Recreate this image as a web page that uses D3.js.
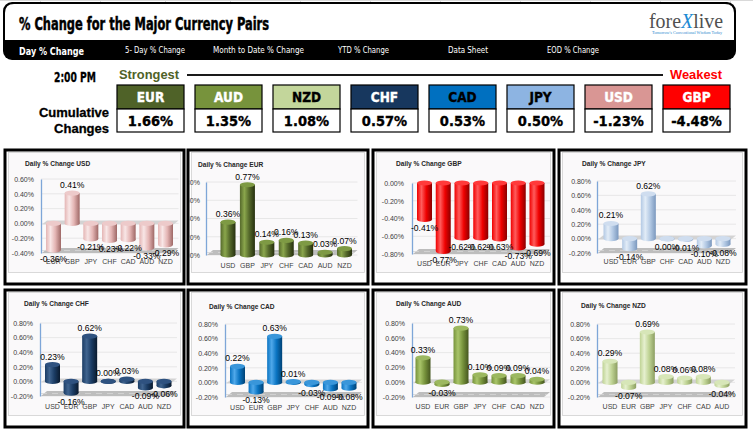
<!DOCTYPE html>
<html><head><meta charset="utf-8">
<script src="https://cdn.jsdelivr.net/npm/d3@7"></script>
<style>body{margin:0;background:#fff;} svg{display:block;}</style>
</head><body>
<svg id="c" width="753" height="431"></svg>
<script>
// ---------------- DATA ----------------
const tabLabels = ["Day % Change","5- Day % Change","Month to Date % Change","YTD % Change","Data Sheet","EOD % Change"];
const cumPairs  = ["EUR","AUD","NZD","CHF","CAD","JPY","USD","GBP"];
const cumValues = [1.66, 1.35, 1.08, 0.57, 0.53, 0.50, -1.23, -4.48];

const usdCats = ["EUR","GBP","JPY","CHF","CAD","AUD","NZD"];
const usdValues = [-0.36, 0.41, -0.21, -0.23, -0.22, -0.33, -0.29];
const eurCats = ["USD","GBP","JPY","CHF","CAD","AUD","NZD"];
const eurValues = [0.36, 0.77, 0.14, 0.16, 0.13, 0.03, 0.07];
const gbpCats = ["USD","EUR","JPY","CHF","CAD","AUD","NZD"];
const gbpValues = [-0.41, -0.77, -0.62, -0.62, -0.63, -0.73, -0.69];
const jpyCats = ["USD","EUR","GBP","CHF","CAD","AUD","NZD"];
const jpyValues = [0.21, -0.14, 0.62, -0.004, -0.01, -0.10, -0.08];
const chfCats = ["USD","EUR","GBP","JPY","CAD","AUD","NZD"];
const chfValues = [0.23, -0.16, 0.62, 0.00, 0.03, -0.09, -0.06];
const cadCats = ["USD","EUR","GBP","JPY","CHF","AUD","NZD"];
const cadValues = [0.22, -0.13, 0.63, 0.01, -0.03, -0.09, -0.08];
const audCats = ["USD","EUR","GBP","JPY","CHF","CAD","NZD"];
const audValues = [0.33, -0.03, 0.73, 0.10, 0.09, 0.09, 0.04];
const nzdCats = ["USD","EUR","GBP","JPY","CHF","CAD","AUD"];
const nzdValues = [0.29, -0.07, 0.69, 0.08, 0.06, 0.08, -0.04];

const usdTicks = [-0.4, -0.2, 0, 0.2, 0.4, 0.6];
const eurTicks = [0, 0.2, 0.4, 0.6, 0.8];
const gbpTicks = [-0.8, -0.6, -0.4, -0.2, 0];
const crossTicks = [-0.2, 0, 0.2, 0.4, 0.6, 0.8];

// ---------------- STYLES / LAYOUT ----------------
const pairStyle = {
  EUR:{fill:"#4F6228", text:"#fff", base:"#55692B", hi:"#8AA64C", dark:"#26300F", cap:"#7E9A44"},
  AUD:{fill:"#77933C", text:"#fff", base:"#77933C", hi:"#A9C56A", dark:"#45561F", cap:"#9CB860"},
  NZD:{fill:"#C3D69B", text:"#000", base:"#BFD394", hi:"#E6F0CF", dark:"#8C9E62", cap:"#D7E6B8"},
  CHF:{fill:"#17375E", text:"#fff", base:"#1B3C64", hi:"#40648F", dark:"#0A1A2E", cap:"#2F5280"},
  CAD:{fill:"#0070C0", text:"#000", base:"#0A74C2", hi:"#4FA8EA", dark:"#004276", cap:"#3996DA"},
  JPY:{fill:"#8DB4E2", text:"#000", base:"#B3C9E4", hi:"#E2ECF7", dark:"#7B98BE", cap:"#CFDDEF"},
  USD:{fill:"#D99694", text:"#fff", base:"#E4B5B4", hi:"#F8E6E6", dark:"#9E6866", cap:"#EDCACA"},
  GBP:{fill:"#FF0000", text:"#fff", base:"#F00000", hi:"#FF5C5C", dark:"#8A0000", cap:"#FF3A3A"}
};

const panels = [
  {pair:"USD", cats:usdCats, values:usdValues, ticks:usdTicks},
  {pair:"EUR", cats:eurCats, values:eurValues, ticks:eurTicks},
  {pair:"GBP", cats:gbpCats, values:gbpValues, ticks:gbpTicks},
  {pair:"JPY", cats:jpyCats, values:jpyValues, ticks:crossTicks},
  {pair:"CHF", cats:chfCats, values:chfValues, ticks:crossTicks},
  {pair:"CAD", cats:cadCats, values:cadValues, ticks:crossTicks},
  {pair:"AUD", cats:audCats, values:audValues, ticks:crossTicks},
  {pair:"NZD", cats:nzdCats, values:nzdValues, ticks:crossTicks}
];

const layouts = [
  {box:[5,150,179,134],  chartH:120, titleX:25,  titleY:164, axisX:41,  labelR:34,  yTop:179, yBot:253, c0:53.5,  c6:165.5, catY:262},
  {box:[188,150,180,134],chartH:120, titleX:198, titleY:165, axisX:206, labelR:200, yTop:182, yBot:255, c0:228,   c6:344.5, catY:266},
  {box:[373,150,181,134],chartH:120, titleX:396, titleY:164, axisX:412, labelR:404, yTop:183, yBot:254, c0:424.5, c6:537,   catY:264},
  {box:[559,150,187,134],chartH:120, titleX:582, titleY:164, axisX:597, labelR:591, yTop:181, yBot:253, c0:611,   c6:723,   catY:262},
  {box:[5,290,179,137],  chartH:123, titleX:24,  titleY:304, axisX:40,  labelR:33,  yTop:323, yBot:396, c0:52.5,  c6:164,   catY:407},
  {box:[188,290,180,137],chartH:123, titleX:209, titleY:307, axisX:225, labelR:218, yTop:324, yBot:397, c0:237.5, c6:349,   catY:408},
  {box:[373,290,181,137],chartH:123, titleX:396, titleY:304, axisX:412, labelR:405, yTop:323, yBot:397, c0:423,   c6:537,   catY:407},
  {box:[559,290,187,137],chartH:123, titleX:581, titleY:306, axisX:597, labelR:590, yTop:324, yBot:397, c0:610,   c6:722,   catY:407}
];

const fmtPct = d => (Math.abs(d) < 0.005 ? "0.00" : d.toFixed(2)) + "%";
const NARROW = "'Liberation Sans Narrow','DejaVu Sans Condensed',sans-serif";
const SANS = "'Liberation Sans',Arial,sans-serif";

// ---------------- DRAW ----------------
const svg = d3.select("#c");
const defs = svg.append("defs");

// faint spreadsheet grid at very top
svg.append("line").attr("x1",0).attr("x2",753).attr("y1",0.5).attr("y2",0.5).attr("stroke","#D9D9D9");
[40,100,165,230,300,370,440,520,590,660,730].forEach(x=>{
  svg.append("line").attr("x1",x+0.5).attr("x2",x+0.5).attr("y1",0).attr("y2",3).attr("stroke","#D9D9D9");
});

// header box
svg.append("rect").attr("x",3).attr("y",2).attr("width",733).attr("height",58).attr("rx",9).attr("fill","#000");
svg.append("path").attr("d","M14,4 H725 Q734,4 734,13 V40 H5 V13 Q5,4 14,4 Z").attr("fill","#fff");
svg.append("text").attr("x",19).attr("y",29.5).attr("font-family",NARROW)
  .attr("font-weight","bold").attr("font-size",18).attr("fill","#000").attr("stroke","#000").attr("stroke-width",0.5)
  .attr("textLength",250).attr("lengthAdjust","spacingAndGlyphs").text("% Change for the Major Currency Pairs");

// tabs
const tabX = [19,125,213,338,448,547];
const tabW = [65,60,91,51,40,52];
svg.selectAll(".tab").data(tabLabels).join("text").attr("class","tab")
  .attr("x",(d,i)=>tabX[i]).attr("y",(d,i)=> i===0 ? 55 : 53)
  .attr("font-family",NARROW)
  .attr("font-weight",(d,i)=> i===0 ? "bold" : "normal")
  .attr("font-size",(d,i)=> i===0 ? 11 : 9)
  .attr("fill","#fff")
  .attr("textLength",(d,i)=>tabW[i]).attr("lengthAdjust","spacingAndGlyphs")
  .text(d=>d);

// logo
const logo = svg.append("text").attr("x",649).attr("y",28).attr("font-family","'Liberation Serif','DejaVu Serif',serif")
  .attr("font-size",20).attr("fill","#505050").attr("textLength",74).attr("lengthAdjust","spacingAndGlyphs");
logo.append("tspan").text("fore");
logo.append("tspan").attr("fill","#1C8AD4").attr("font-style","italic").text("X");
logo.append("tspan").text("live");
svg.append("text").attr("x",652).attr("y",34).attr("font-family","'Liberation Serif',serif").attr("font-size",3.6)
  .attr("fill","#2E8BD0").attr("textLength",70).attr("lengthAdjust","spacingAndGlyphs").text("Tomorrow's Conventional Wisdom Today");

// cumulative section
svg.append("text").attr("x",54).attr("y",82).attr("font-family",NARROW).attr("font-weight","bold")
  .attr("font-size",14).attr("fill","#000").attr("stroke","#000").attr("stroke-width",0.3)
  .attr("textLength",42).attr("lengthAdjust","spacingAndGlyphs").text("2:00 PM");
svg.append("text").attr("x",109).attr("y",117).attr("text-anchor","end").attr("font-family",SANS)
  .attr("font-weight","bold").attr("font-size",13).attr("fill","#000").attr("stroke","#000").attr("stroke-width",0.3).text("Cumulative");
svg.append("text").attr("x",109).attr("y",133).attr("text-anchor","end").attr("font-family",SANS)
  .attr("font-weight","bold").attr("font-size",13).attr("fill","#000").attr("stroke","#000").attr("stroke-width",0.3).text("Changes");
svg.append("text").attr("x",119).attr("y",78.5).attr("font-family",SANS).attr("font-weight","bold")
  .attr("font-size",12.5).attr("fill","#4F6228").attr("textLength",60).attr("lengthAdjust","spacingAndGlyphs").text("Strongest");
svg.append("text").attr("x",670).attr("y",78.5).attr("font-family",SANS).attr("font-weight","bold")
  .attr("font-size",12.5).attr("fill","#FF0000").attr("textLength",52).attr("lengthAdjust","spacingAndGlyphs").text("Weakest");
svg.append("line").attr("x1",187).attr("x2",663).attr("y1",75).attr("y2",75).attr("stroke","#1A1A1A").attr("stroke-width",2);

const cx = d3.scaleBand().domain(cumPairs).range([117,730]).paddingInner(11/78).paddingOuter(0);
const cg = svg.selectAll(".cum").data(cumPairs.map((p,i)=>({p, v:cumValues[i]}))).join("g").attr("class","cum");
cg.append("rect").attr("x",d=>cx(d.p)).attr("y",85).attr("width",cx.bandwidth()).attr("height",24)
  .attr("fill",d=>pairStyle[d.p].fill).attr("stroke","#000").attr("stroke-width",1.2);
cg.append("rect").attr("x",d=>cx(d.p)).attr("y",109).attr("width",cx.bandwidth()).attr("height",23)
  .attr("fill","#fff").attr("stroke","#000").attr("stroke-width",1.2);
cg.append("text").attr("x",d=>cx(d.p)+cx.bandwidth()/2).attr("y",102).attr("text-anchor","middle")
  .attr("font-family",NARROW).attr("font-weight","bold").attr("font-size",13.5)
  .attr("fill",d=>pairStyle[d.p].text).attr("stroke",d=>pairStyle[d.p].text).attr("stroke-width",0.35).text(d=>d.p);
cg.append("text").attr("x",d=>cx(d.p)+cx.bandwidth()/2).attr("y",126).attr("text-anchor","middle")
  .attr("font-family",NARROW).attr("font-weight","bold").attr("font-size",14.5)
  .attr("fill","#000").attr("stroke","#000").attr("stroke-width",0.35).text(d=>fmtPct(d.v));

// gradients for cylinders
Object.entries(pairStyle).forEach(([k,s])=>{
  const g = defs.append("linearGradient").attr("id","grad"+k).attr("x1","0%").attr("x2","100%").attr("y1","0%").attr("y2","0%");
  g.append("stop").attr("offset","0%").attr("stop-color",s.base);
  g.append("stop").attr("offset","30%").attr("stop-color",s.hi);
  g.append("stop").attr("offset","62%").attr("stop-color",s.base);
  g.append("stop").attr("offset","100%").attr("stop-color",s.dark);
});

// panels
panels.forEach((p,i)=>{
  const L = layouts[i];
  const st = pairStyle[p.pair];
  const [bx,by,bw,bh] = L.box;
  const g = svg.append("g");
  g.append("rect").attr("x",bx).attr("y",by).attr("width",bw).attr("height",bh).attr("fill","#fff")
    .attr("stroke","#000").attr("stroke-width",3);
  const clipId = "clip"+i;
  defs.append("clipPath").attr("id",clipId).append("rect").attr("x",bx+1.5).attr("y",by+1.5).attr("width",bw-3).attr("height",bh-3);
  const c = g.append("g").attr("clip-path",`url(#${clipId})`);
  c.append("rect").attr("x",bx+3.5).attr("y",by+2.5).attr("width",bw-7).attr("height",L.chartH)
    .attr("fill","#FAF9FA").attr("stroke","#D0D0D0").attr("stroke-width",0.8);

  const y = d3.scaleLinear().domain([p.ticks[0], p.ticks[p.ticks.length-1]]).range([L.yBot, L.yTop]);
  const s = (L.c6 - L.c0)/6;
  const x = d3.scaleBand().domain(p.cats).range([L.c0-7.5, L.c6+7.5]).paddingInner(1-15/s).paddingOuter(0);
  const right = L.c6 + 13;

  // title
  c.append("text").attr("x",L.titleX).attr("y",L.titleY+2.3).attr("font-family",SANS)
    .attr("font-weight","bold").attr("font-size",6.6).attr("fill","#262626").text("Daily % Change " + p.pair);

  // gridlines
  c.selectAll(".grid").data(p.ticks).join("line").attr("class","grid")
    .attr("x1",L.axisX).attr("x2",right).attr("y1",d=>y(d)).attr("y2",d=>y(d))
    .attr("stroke","#E2E2E2").attr("stroke-width",0.8);

  // floor
  const yb = L.yBot;
  c.append("path").attr("d",`M${L.axisX+1},${yb} L${right-6},${yb} L${right},${yb-5} L${L.axisX+7},${yb-5} Z`)
    .attr("fill","#BDBDBD");
  c.append("path").attr("d",`M${L.axisX+1},${yb-2.5} L${right-3},${yb-2.5}`).attr("stroke","#D6D6D6")
    .attr("stroke-width",0.8).attr("stroke-dasharray","6,5");
  // zero plane
  if (p.ticks[0] < 0 && p.ticks[p.ticks.length-1] > 0) {
    const y0 = y(0);
    c.append("path").attr("d",`M${L.axisX+1},${y0+1} L${right-5},${y0+1} L${right},${y0-3} L${L.axisX+6},${y0-3} Z`)
      .attr("fill","#D3D3D3");
  }

  // y axis
  const ax = c.append("g").attr("transform",`translate(${L.axisX},0)`)
    .call(d3.axisLeft(y).tickValues(p.ticks).tickFormat(fmtPct).tickSize(0).tickPadding(L.axisX - L.labelR));
  ax.select(".domain").attr("stroke","#7EA6D8").attr("stroke-width",1.3);
  ax.selectAll("text").attr("font-family",SANS).attr("font-size",7).attr("fill","#404040");

  // bars (cylinders)
  const bwid = x.bandwidth();
  const bars = c.selectAll(".bar").data(p.cats.map((k,j)=>({k, v:p.values[j]}))).join("g").attr("class","bar");
  bars.append("rect").attr("x",d=>x(d.k)).attr("y",d=>y(Math.max(d.v,0)))
    .attr("width",bwid).attr("height",d=>Math.abs(y(d.v)-y(0))).attr("fill",`url(#grad${p.pair})`);
  bars.append("ellipse").attr("cx",d=>x(d.k)+bwid/2).attr("cy",d=>y(Math.min(d.v,0)))
    .attr("rx",bwid/2).attr("ry",2.6).attr("fill",`url(#grad${p.pair})`);
  bars.append("ellipse").attr("cx",d=>x(d.k)+bwid/2).attr("cy",d=>y(Math.max(d.v,0)))
    .attr("rx",bwid/2).attr("ry",2.6).attr("fill",st.cap);

  // category labels
  const xa = c.append("g").attr("transform",`translate(0,${L.catY})`)
    .call(d3.axisBottom(x).tickSize(0).tickPadding(0));
  xa.select(".domain").remove();
  xa.selectAll("text").attr("y",0).attr("dy","0.35em").attr("font-family",SANS)
    .attr("font-size",7).attr("fill","#404040");

  // value labels
  c.selectAll(".vl").data(p.cats.map((k,j)=>({k, v:p.values[j]}))).join("text").attr("class","vl")
    .attr("x",d=>x(d.k)+bwid/2).attr("y",d=> d.v >= 0 ? y(d.v)-5 : y(d.v)+11.5)
    .attr("text-anchor","middle").attr("font-family",SANS)
    .attr("font-size",8.6).attr("fill","#000").text(d=>fmtPct(d.v));
});
</script>
</body></html>
